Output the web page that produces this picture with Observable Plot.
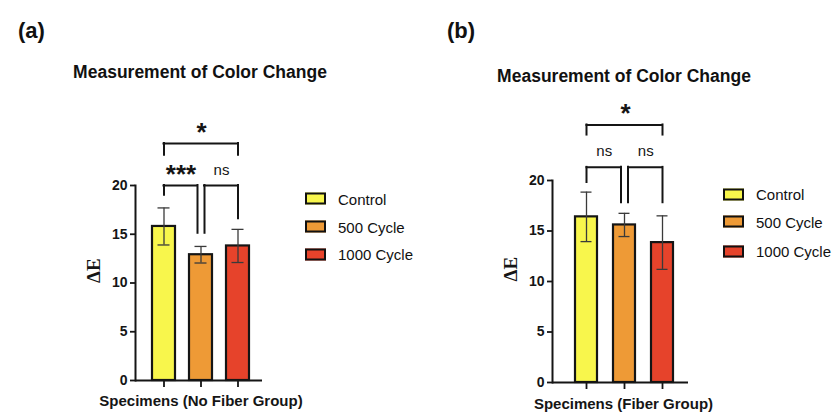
<!DOCTYPE html>
<html>
<head>
<meta charset="utf-8">
<script src="https://cdn.jsdelivr.net/npm/d3@7"></script>
<script src="https://cdn.jsdelivr.net/npm/@observablehq/plot@0.6"></script>
<style>
  html, body { margin: 0; padding: 0; background: #fff; }
  #root { position: relative; width: 834px; height: 418px; overflow: hidden; font-family: "Liberation Sans", Arial, sans-serif; color: #111; }
  .abs { position: absolute; white-space: nowrap; line-height: 1; }
  .center { transform: translate(-50%, -50%); }
  .vmid { transform: translateY(-50%); }
  .panel-label { font-size: 22px; font-weight: bold; }
  .title { font-size: 17.5px; font-weight: bold; }
  .legend-row { position: absolute; display: flex; flex-wrap: nowrap; white-space: nowrap; align-items: center; font-size: 15px; transform: translateY(-50%); }
  .swatch { flex: none; width: 17px; height: 8px; border: 2px solid #111; margin-right: 12px; }
  svg { position: absolute; top: 0; }
</style>
</head>
<body>
<div id="root"></div>
<script>
// ---- data ----
const categories = ["Control", "500 Cycle", "1000 Cycle"];
const barColors = ["#f8f64c", "#ee9a36", "#e6432b"];
const yTicks = [0, 5, 10, 15, 20];

const noFiberMeans = [15.8, 12.9, 13.8];
const noFiberErrors = [1.9, 0.85, 1.7];
const fiberMeans = [16.4, 15.6, 13.85];
const fiberErrors = [2.45, 1.15, 2.65];

const noFiberBrackets = [
  {from: "Control", to: "500 Cycle", label: "***", top: 20, leftEnd: 19, rightEnd: 15.1},
  {from: "500 Cycle", to: "1000 Cycle", label: "ns", top: 20, leftEnd: 15.1, rightEnd: 16.6},
  {from: "Control", to: "1000 Cycle", label: "*", top: 24.3, leftEnd: 23.1, rightEnd: 23.1}
];
const fiberBrackets = [
  {from: "Control", to: "500 Cycle", label: "ns", top: 21.3, leftEnd: 19.8, rightEnd: 17.8},
  {from: "500 Cycle", to: "1000 Cycle", label: "ns", top: 21.3, leftEnd: 17.8, rightEnd: 17.8},
  {from: "Control", to: "1000 Cycle", label: "*", top: 25.5, leftEnd: 24.5, rightEnd: 24.5}
];

const panelLabels = ["(a)", "(b)"];
const titleText = "Measurement of Color Change";
const yLabelText = "ΔE";
const xLabels = ["Specimens (No Fiber Group)", "Specimens (Fiber Group)"];

// ---- drawing ----
const root = document.getElementById("root");
const ink = "#151515";
const sans = "'Liberation Sans', Arial, sans-serif";

function makePanel(cfg) {
  const {means, errors, brackets, width, height, marginLeft, marginRight, marginTop, marginBottom,
         paddingInner, paddingOuter, align, xLabel, yLabelDx, xLabelDy, xLabelDx} = cfg;
  const rows = categories.map((c, i) => ({cat: c, mean: means[i], err: errors[i]}));
  const xOpts = {type: "band", domain: categories, paddingInner, paddingOuter, align};
  const sx = Plot.scale({x: {...xOpts, range: [marginLeft, width - marginRight]}});
  const bw = sx.bandwidth;
  const legGap = 3.5;
  const capWidth = 12;

  const bracketMarks = brackets.flatMap((b) => {
    const dxL = brackets.some((o) => o !== b && o.to === b.from) ? legGap : 0;
    const dxR = brackets.some((o) => o !== b && o.from === b.to) ? -legGap : 0;
    const xl = sx.apply(b.from) + dxL, xr = sx.apply(b.to) + dxR;
    const style = {stroke: ink, strokeWidth: 2, strokeLinecap: "square"};
    const isNs = b.label === "ns";
    return [
      Plot.ruleX([b], {x: "from", y1: "top", y2: "leftEnd", dx: dxL, ...style}),
      Plot.ruleX([b], {x: "to", y1: "top", y2: "rightEnd", dx: dxR, ...style}),
      Plot.ruleY([b], {x1: "from", x2: "to", y: "top", insetLeft: bw / 2 + dxL, insetRight: bw / 2 - dxR, ...style}),
      Plot.text([b], {
        x: "from", y: "top", text: "label", dx: dxL + (xr - xl) / 2,
        dy: isNs ? -11 : -3, lineAnchor: "bottom", fontFamily: sans,
        fontSize: isNs ? 15 : 26, fontWeight: isNs ? "normal" : "bold", fill: ink
      })
    ];
  });

  return Plot.plot({
    width, height, marginLeft, marginRight, marginTop, marginBottom,
    style: {fontFamily: sans, fontSize: "14px", color: ink, background: "transparent"},
    x: {...xOpts, axis: null},
    y: {domain: [0, 20], axis: null},
    color: {domain: categories, range: barColors},
    marks: [
      Plot.barY(rows, {x: "cat", y: "mean", fill: "cat", stroke: ink, strokeWidth: 2.2}),
      Plot.ruleX(rows, {x: "cat", y1: (d) => d.mean - d.err, y2: (d) => d.mean + d.err, stroke: "#3a3a3a", strokeWidth: 1.3}),
      Plot.tickY(rows, {x: "cat", y: (d) => d.mean - d.err, inset: (bw - capWidth) / 2, stroke: "#3a3a3a", strokeWidth: 1.3}),
      Plot.tickY(rows, {x: "cat", y: (d) => d.mean + d.err, inset: (bw - capWidth) / 2, stroke: "#3a3a3a", strokeWidth: 1.3}),
      Plot.axisY({ticks: yTicks, tickSize: 5, tickPadding: 3, stroke: ink, strokeWidth: 1.8, fill: ink, label: null,
                  fontFamily: sans, fontSize: 14, fontWeight: "bold"}),
      Plot.axisX({tickSize: 7, tickFormat: () => "", stroke: ink, strokeWidth: 1.8, label: null}),
      Plot.frame({anchor: "left", stroke: ink, strokeWidth: 2}),
      Plot.ruleY([0], {stroke: ink, strokeWidth: 2}),
      ...bracketMarks,
      Plot.text([yLabelText], {frameAnchor: "left", dx: yLabelDx, rotate: -90, fontFamily: "'Liberation Serif', 'Times New Roman', serif", fontSize: 19, fontWeight: "bold", fill: ink}),
      Plot.text([xLabel], {frameAnchor: "bottom", dy: xLabelDy, dx: xLabelDx, fontFamily: sans, fontSize: 15, fontWeight: "bold", fill: ink})
    ]
  });
}

const panels = [
  {left: 0, means: noFiberMeans, errors: noFiberErrors, brackets: noFiberBrackets, width: 420, height: 418,
   marginLeft: 135, marginRight: 158, marginTop: 185, marginBottom: 38,
   paddingInner: 0.387, paddingOuter: 0.387, align: 0.57, xLabel: xLabels[0], yLabelDx: -42, xLabelDy: 25, xLabelDx: 2,
   labelPos: [18, 31], titlePos: [200, 73], legendX: 305, legendY: [198.7, 226.5, 254]},
  {left: 420, means: fiberMeans, errors: fiberErrors, brackets: fiberBrackets, width: 414, height: 418,
   marginLeft: 132, marginRight: 146, marginTop: 180, marginBottom: 36,
   paddingInner: 0.41, paddingOuter: 0.449, align: 0.61, xLabel: xLabels[1], yLabelDx: -42, xLabelDy: 26, xLabelDx: 3,
   labelPos: [27, 31], titlePos: [204, 77], legendX: 303, legendY: [194.3, 221.7, 251]}
];

panels.forEach((p, pi) => {
  const svg = makePanel(p);
  svg.style.left = p.left + "px";
  root.appendChild(svg);

  const lab = document.createElement("div");
  lab.className = "abs panel-label vmid";
  lab.style.left = (p.left + p.labelPos[0]) + "px";
  lab.style.top = p.labelPos[1] + "px";
  lab.textContent = panelLabels[pi];
  root.appendChild(lab);

  const title = document.createElement("div");
  title.className = "abs title center";
  title.style.left = (p.left + p.titlePos[0]) + "px";
  title.style.top = p.titlePos[1] + "px";
  title.textContent = titleText;
  root.appendChild(title);

  categories.forEach((c, i) => {
    const row = document.createElement("div");
    row.className = "legend-row";
    row.style.left = (p.left + p.legendX) + "px";
    row.style.top = p.legendY[i] + "px";
    const sw = document.createElement("div");
    sw.className = "swatch";
    sw.style.background = barColors[i];
    const t = document.createElement("span");
    t.textContent = c;
    row.appendChild(sw);
    row.appendChild(t);
    root.appendChild(row);
  });
});
</script>
</body>
</html>
